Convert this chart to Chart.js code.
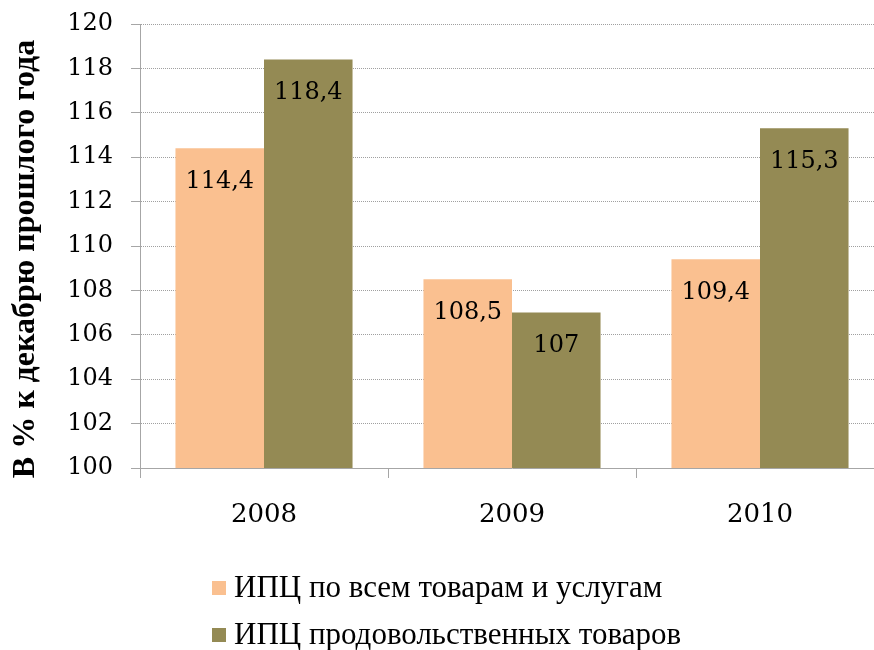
<!DOCTYPE html>
<html>
<head>
<meta charset="utf-8">
<script src="https://cdn.jsdelivr.net/npm/chart.js@4.4.0/dist/chart.umd.min.js"></script>
<style>
  html, body { margin: 0; padding: 0; background: #fff; overflow: hidden; }
  #wrap { position: relative; width: 884px; height: 650px; }
</style>
</head>
<body>
<div id="wrap"><canvas id="c"></canvas></div>
<script>
const categories = ['2008', '2009', '2010'];
const seriesNames = ['ИПЦ по всем товарам и услугам', 'ИПЦ продовольственных товаров'];
const cpiAll = [114.4, 108.5, 109.4];
const cpiFood = [118.4, 107, 115.3];
const yTicks = [100, 102, 104, 106, 108, 110, 112, 114, 116, 118, 120];
const yTitle = 'В % к декабрю прошлого года';
const colors = ['#FAC090', '#948A54'];

const numFont = 'DejaVu Serif';
const txtFont = 'Liberation Serif';

const fmt = v => String(v).replace('.', ',');

const barLabels = {
  id: 'barLabels',
  afterDatasetsDraw(chart) {
    const ctx = chart.ctx;
    ctx.save();
    ctx.font = '24px "' + numFont + '"';
    ctx.fillStyle = '#000';
    ctx.textAlign = 'center';
    ctx.textBaseline = 'middle';
    chart.data.datasets.forEach((ds, i) => {
      const meta = chart.getDatasetMeta(i);
      meta.data.forEach((bar, j) => {
        ctx.fillText(fmt(ds.data[j]), bar.x, bar.y + 33);
      });
    });
    ctx.restore();
  }
};

const yTitlePlugin = {
  id: 'yTitlePlugin',
  afterDraw(chart) {
    const ctx = chart.ctx;
    ctx.save();
    ctx.font = 'bold 32px "' + txtFont + '"';
    ctx.fillStyle = '#000';
    ctx.textAlign = 'center';
    ctx.textBaseline = 'middle';
    ctx.translate(26, 259);
    ctx.rotate(-Math.PI / 2);
    ctx.fillText(yTitle, 0, 0);
    ctx.restore();
  }
};

const customLegend = {
  id: 'customLegend',
  afterDraw(chart) {
    const ctx = chart.ctx;
    ctx.save();
    ctx.font = '31px "' + txtFont + '"';
    ctx.textBaseline = 'middle';
    ctx.textAlign = 'left';
    const ys = [588, 635];
    chart.data.datasets.forEach((ds, i) => {
      ctx.fillStyle = ds.backgroundColor;
      ctx.fillRect(212, ys[i] - 7, 14, 14);
      ctx.fillStyle = '#000';
      ctx.fillText(ds.label, 234, ys[i] + 1);
    });
    ctx.restore();
  }
};

new Chart(document.getElementById('c'), {
  type: 'bar',
  data: {
    labels: categories,
    datasets: [
      { label: seriesNames[0], data: cpiAll, backgroundColor: colors[0], categoryPercentage: 0.714, barPercentage: 1 },
      { label: seriesNames[1], data: cpiFood, backgroundColor: colors[1], categoryPercentage: 0.714, barPercentage: 1 }
    ]
  },
  options: {
    responsive: true,
    maintainAspectRatio: false,
    animation: false,
    layout: { padding: { top: 24, left: 0, right: 0, bottom: 112 } },
    plugins: { legend: { display: false }, tooltip: { enabled: false } },
    scales: {
      x: {
        afterFit: s => { s.height = 70; s.paddingLeft = 0; s.paddingRight = 0; },
        grid: { drawOnChartArea: false, drawTicks: true, tickLength: 10, color: '#a6a6a6', offset: true },
        border: { color: '#a6a6a6', width: 1 },
        ticks: { color: '#000', font: { family: numFont, size: 26 }, padding: 22 }
      },
      y: {
        min: 100, max: 120,
        afterFit: s => { s.width = 140; s.paddingTop = 0; s.paddingBottom = 0; },
        afterBuildTicks: s => { s.ticks = yTicks.map(v => ({ value: v })); },
        grid: { color: '#a0a0a0', tickColor: '#a6a6a6', tickLength: 9, tickBorderDash: [] },
        border: { color: '#a6a6a6', width: 1, dash: [1, 1] },
        ticks: { color: '#000', font: { family: numFont, size: 24 }, padding: 18 },
        title: { display: false }
      }
    }
  },
  plugins: [barLabels, yTitlePlugin, customLegend]
});
</script>
</body>
</html>
